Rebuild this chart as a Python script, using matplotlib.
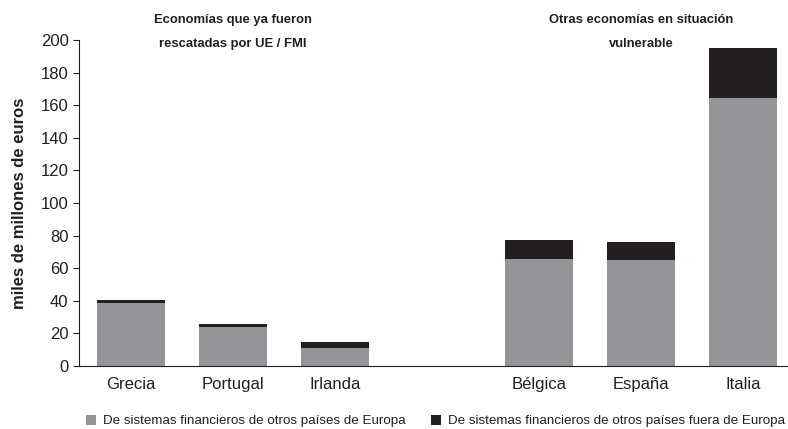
import numpy as np
import matplotlib.pyplot as plt

plt.rcParams['font.family'] = ['Liberation Sans', 'DejaVu Sans']

paises = ['Grecia', 'Portugal', 'Irlanda', 'Bélgica', 'España', 'Italia']
posiciones = [0, 1, 2, 4, 5, 6]
europa = [38.8, 24.1, 11.0, 65.6, 65.0, 164.5]
fuera_europa = [1.8, 1.9, 3.8, 11.7, 11.0, 30.5]

gris = '#939598'
negro = '#231f20'

fig = plt.figure(figsize=(7.88, 4.29), dpi=100)
ax = fig.add_axes([0.1003, 0.147, 0.8997, 0.76])

ax.bar(posiciones, europa, width=0.67, color=gris,
       label='De sistemas financieros de otros países de Europa')
ax.bar(posiciones, fuera_europa, width=0.67, bottom=europa, color=negro,
       label='De sistemas financieros de otros países fuera de Europa')

ax.set_xlim(-0.51, 6.44)
ax.set_ylim(0, 200)
ax.set_yticks(np.arange(0, 201, 20))
ax.set_xticks(posiciones)
ax.set_xticklabels(paises)
ax.tick_params(axis='x', length=0, labelsize=12, pad=8, colors='#231f20')
ax.tick_params(axis='y', direction='out', length=4, labelsize=12, colors='#231f20')
ax.spines['top'].set_visible(False)
ax.spines['right'].set_visible(False)
ax.spines['left'].set_color('#231f20')
ax.spines['bottom'].set_color('#231f20')
ax.set_ylabel('miles de millones de euros', fontsize=12, fontweight='bold',
              color='#231f20', labelpad=10)

titulo_y = 1 - 14 / 429
fig.text(ax.transData.transform((1, 0))[0] / fig.bbox.width, titulo_y,
         'Economías que ya fueron\nrescatadas por UE / FMI',
         ha='center', va='top', fontsize=9.4, fontweight='bold',
         linespacing=2.3, color='#231f20')
fig.text(ax.transData.transform((5, 0))[0] / fig.bbox.width, titulo_y,
         'Otras economías en situación\nvulnerable',
         ha='center', va='top', fontsize=9.4, fontweight='bold',
         linespacing=2.3, color='#231f20')

fig.legend(loc='center', bbox_to_anchor=(0.5527, 1 - 421 / 429), ncol=2,
           frameon=False, fontsize=9.6, handlelength=0.75, handleheight=0.75,
           columnspacing=1.95, handletextpad=0.5, labelcolor='#231f20',
           borderpad=0, borderaxespad=0)

fig.savefig('out.png', dpi=100)
